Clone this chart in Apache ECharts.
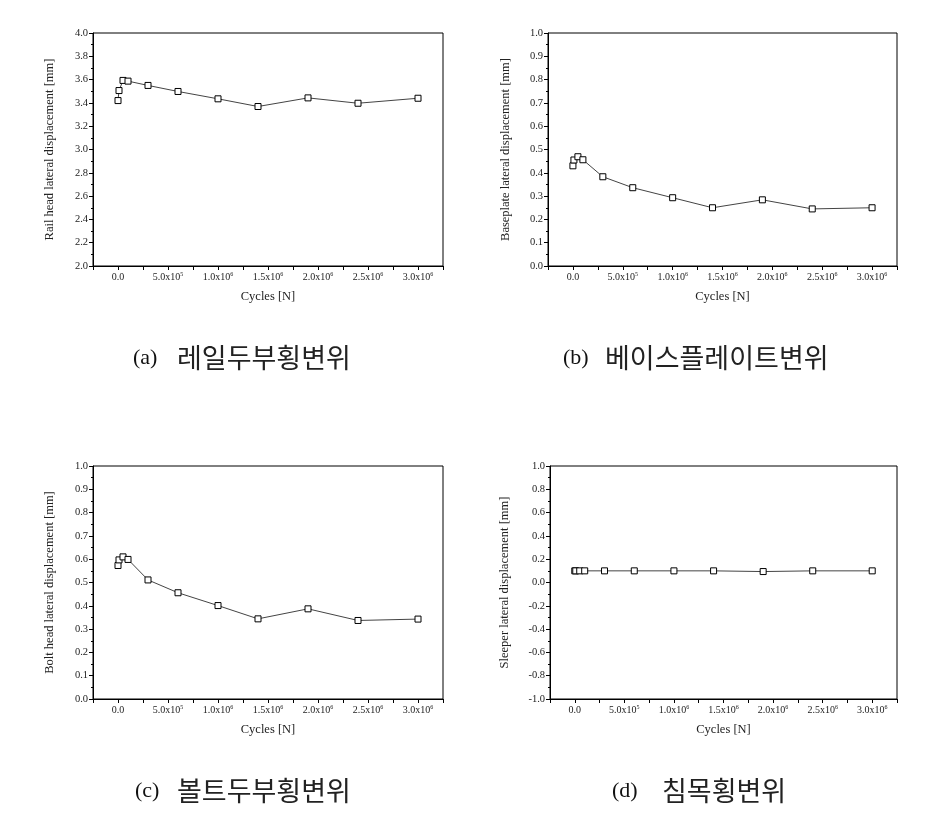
<!DOCTYPE html>
<html>
<head>
<meta charset="utf-8">
<script src="https://cdn.jsdelivr.net/npm/echarts@6/dist/echarts.min.js"></script>
<style>
html,body{margin:0;padding:0;background:#fff;}
#c{width:926px;height:831px;}
</style>
</head>
<body>
<div id="c"></div>
<script>
// Cycles (x values, shared)
const cycles = [0, 10000, 50000, 100000, 300000, 600000, 1000000, 1400000, 1900000, 2400000, 3000000];
// Series values [mm]
const railHead = [3.42, 3.506, 3.593, 3.587, 3.55, 3.498, 3.435, 3.369, 3.443, 3.397, 3.44];
const baseplate = [0.43, 0.455, 0.469, 0.456, 0.383, 0.336, 0.293, 0.250, 0.284, 0.245, 0.250];
const boltHead = [0.573, 0.597, 0.61, 0.599, 0.511, 0.456, 0.401, 0.344, 0.387, 0.337, 0.343];
const sleeper = [0.1, 0.1, 0.1, 0.1, 0.1, 0.1, 0.1, 0.1, 0.094, 0.1, 0.1];
// Axis titles and captions
const yTitles = ['Rail head lateral displacement [mm]', 'Baseplate lateral displacement [mm]', 'Bolt head lateral displacement [mm]', 'Sleeper lateral displacement [mm]'];
const xTitle = 'Cycles [N]';
const captionTags = ['(a)', '(b)', '(c)', '(d)'];
const captionTexts = ['레일두부횡변위', '베이스플레이트변위', '볼트두부횡변위', '침목횡변위'];
const yRanges = [[2.0, 4.0, 0.2], [0.0, 1.0, 0.1], [0.0, 1.0, 0.1], [-1.0, 1.0, 0.2]];

const serif = '"Liberation Serif", "DejaVu Serif", serif';
function xFmt(v) {
  if (Math.abs(v) < 1) return '{m|0.0}';
  if (Math.round(v) % 500000 !== 0 || v < 0) return '';
  const e = Math.floor(Math.log10(v) + 1e-9);
  const m = v / Math.pow(10, e);
  return '{m|' + m.toFixed(1) + 'x10}{s|' + e + '}';
}
function yFmt(v) {
  if (Math.abs(v) < 1e-9) return '0.0';
  return v.toFixed(1);
}

const grids = [
  {left: 93, top: 33, width: 350, height: 233},
  {left: 548, top: 33, width: 349, height: 233},
  {left: 93, top: 466, width: 350, height: 233},
  {left: 550, top: 466, width: 347, height: 233}
];
const yNameGaps = [37, 36, 37, 39];
const seriesData = [railHead, baseplate, boltHead, sleeper];

const option = {
  backgroundColor: '#fff',
  animation: false,
  grid: grids.map(g => Object.assign({show: true, borderColor: '#000', borderWidth: 1, backgroundColor: 'transparent'}, g)),
  xAxis: grids.map((g, i) => ({
    type: 'value', gridIndex: i, min: -250000, max: 3250000, interval: 250000,
    name: xTitle, nameLocation: 'middle', nameGap: 24,
    nameTextStyle: {fontFamily: serif, fontSize: 12.5, color: '#222'},
    axisLine: {show: true, onZero: false, lineStyle: {color: '#000', width: 1}},
    axisTick: {show: true, inside: false, length: 4, lineStyle: {color: '#000'}},
    minorTick: {show: false},
    splitLine: {show: false},
    axisLabel: {
      formatter: xFmt, color: '#222', margin: 5, showMinLabel: true, showMaxLabel: true, hideOverlap: false,
      rich: {
        m: {fontFamily: serif, fontSize: 10, color: '#222', lineHeight: 12},
        s: {fontFamily: serif, fontSize: 6, color: '#222', lineHeight: 6, verticalAlign: 'top'}
      }
    }
  })),
  yAxis: grids.map((g, i) => ({
    type: 'value', gridIndex: i, min: yRanges[i][0], max: yRanges[i][1], interval: yRanges[i][2],
    name: yTitles[i], nameLocation: 'middle', nameGap: yNameGaps[i], nameRotate: 90,
    nameTextStyle: {fontFamily: serif, fontSize: 12.5, color: '#222'},
    axisLine: {show: true, onZero: false, lineStyle: {color: '#000', width: 1}},
    axisTick: {show: true, inside: false, length: 4, lineStyle: {color: '#000'}},
    minorTick: {show: true, splitNumber: 2, length: 2, lineStyle: {color: '#000'}},
    splitLine: {show: false},
    axisLabel: {formatter: yFmt, fontFamily: serif, fontSize: 10.5, color: '#222', margin: 5}
  })),
  series: seriesData.map((d, i) => ({
    type: 'line', xAxisIndex: i, yAxisIndex: i,
    data: cycles.map((c, j) => [c, d[j]]),
    symbol: 'rect', symbolSize: 6, showAllSymbol: true,
    lineStyle: {color: '#444', width: 1},
    itemStyle: {color: '#fff', borderColor: '#000', borderWidth: 1},
    z: 3
  })),
  graphic: [
    {type: 'text', left: 133, top: 347, style: {text: captionTags[0], font: '22px ' + serif, fill: '#111'}},
    {type: 'text', left: 177, top: 344, style: {text: captionTexts[0], font: '27px "Noto Sans CJK KR"', fill: '#222'}},
    {type: 'text', left: 563, top: 347, style: {text: captionTags[1], font: '22px ' + serif, fill: '#111'}},
    {type: 'text', left: 605, top: 344, style: {text: captionTexts[1], font: '27px "Noto Sans CJK KR"', fill: '#222'}},
    {type: 'text', left: 135, top: 780, style: {text: captionTags[2], font: '22px ' + serif, fill: '#111'}},
    {type: 'text', left: 177, top: 777, style: {text: captionTexts[2], font: '27px "Noto Sans CJK KR"', fill: '#222'}},
    {type: 'text', left: 612, top: 780, style: {text: captionTags[3], font: '22px ' + serif, fill: '#111'}},
    {type: 'text', left: 662, top: 777, style: {text: captionTexts[3], font: '27px "Noto Sans CJK KR"', fill: '#222'}}
  ]
};
const chart = echarts.init(document.getElementById('c'), null, {renderer: 'canvas'});
chart.setOption(option);
</script>
</body>
</html>
